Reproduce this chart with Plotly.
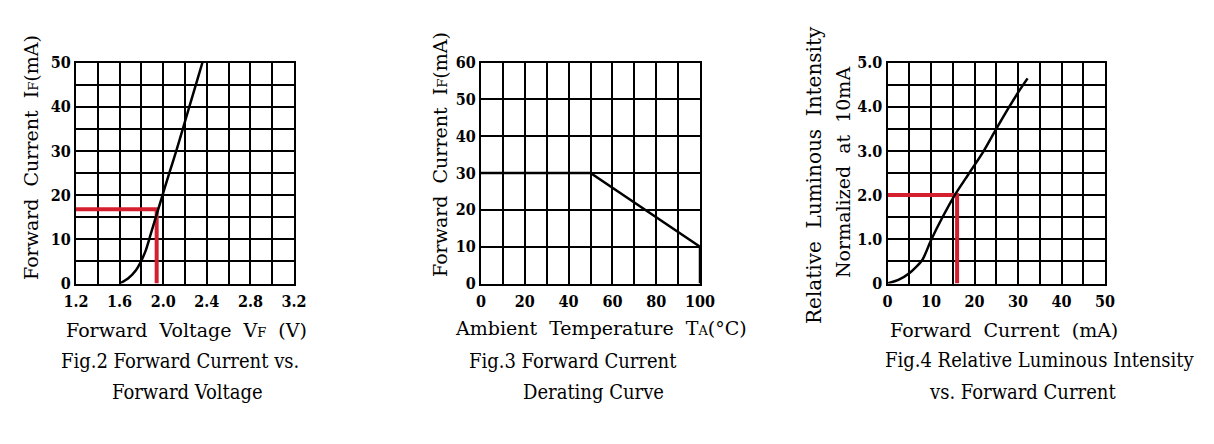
import plotly.graph_objects as go

W, H = 1214, 444
OFF = 8  # page body margin around the plot div

# ── Fig.2 Forward current vs forward voltage ─────────────────────────────────
vf = [1.60, 1.68, 1.75, 1.79, 1.84, 1.88, 1.92, 1.955, 2.00, 2.06, 2.12, 2.18, 2.24, 2.30, 2.36]
if_vf = [0, 1.2, 3.0, 4.7, 7.5, 10.7, 14, 16.8, 20.5, 25.3, 30, 35, 40, 45, 50]
mark_vf = [1.2, 1.94, 1.94]
mark_if = [16.8, 16.8, 0]

# ── Fig.3 Derating curve ─────────────────────────────────────────────────────
ta = [0, 50, 100, 100]
if_ta = [30, 30, 10, 0]

# ── Fig.4 Relative luminous intensity vs forward current ─────────────────────
if_lum = [0, 2.5, 5, 8, 10, 12.7, 15.4, 18.8, 22, 25, 28, 30, 32.2]
lum = [0, 0.08, 0.23, 0.53, 0.98, 1.51, 1.99, 2.5, 2.98, 3.5, 4.0, 4.32, 4.64]
mark_i = [0, 16, 16]
mark_lum = [2.0, 2.0, 0]

x1_ticks = [1.2, 1.6, 2.0, 2.4, 2.8, 3.2]
x1_text = ["1.2", "1.6", "2.0", "2.4", "2.8", "3.2"]
y3_ticks = [0, 1, 2, 3, 4, 5]
y3_text = ["0", "1.0", "2.0", "3.0", "4.0", "5.0"]

RED = "#d4202e"
SERIF = "DejaVu Serif, Liberation Serif, serif"
COND = "DejaVu Serif Condensed, Liberation Serif, serif"


def fx(x):
    return (x - OFF) / W


def fy(y):
    return 1 - (y - OFF) / H


Y_DOM = [fy(283.5), fy(62.5)]
X_DOMS = [[fx(76), fx(294)], [fx(481), fx(700)], [fx(887.5), fx(1105)]]

fig = go.Figure()
fig.add_trace(go.Scatter(x=mark_vf, y=mark_if, mode="lines", xaxis="x", yaxis="y",
                         line=dict(color=RED, width=4)))
fig.add_trace(go.Scatter(x=vf, y=if_vf, mode="lines", xaxis="x", yaxis="y",
                         line=dict(color="black", width=2.5, shape="spline", smoothing=0.6)))
fig.add_trace(go.Scatter(x=ta, y=if_ta, mode="lines", xaxis="x2", yaxis="y2",
                         line=dict(color="black", width=2.5)))
fig.add_trace(go.Scatter(x=mark_i, y=mark_lum, mode="lines", xaxis="x3", yaxis="y3",
                         line=dict(color=RED, width=4)))
fig.add_trace(go.Scatter(x=if_lum, y=lum, mode="lines", xaxis="x3", yaxis="y3",
                         line=dict(color="black", width=2.5, shape="spline", smoothing=0.6)))

tickfont = dict(family=COND, size=16, color="black", weight="bold")


def axis(dom, rng, dtick, minor, anchor, **kw):
    d = dict(domain=dom, range=rng, dtick=dtick, tick0=rng[0], anchor=anchor,
             showline=True, mirror=True, linecolor="black", linewidth=2,
             showgrid=True, gridcolor="black", gridwidth=2, zeroline=False,
             ticks="", tickfont=tickfont, fixedrange=True, automargin=False)
    if minor:
        d["minor"] = dict(dtick=minor, tick0=rng[0], showgrid=True,
                          gridcolor="black", gridwidth=2)
    d.update(kw)
    return d


fig.update_layout(
    template="none",
    width=W, height=H, margin=dict(l=0, r=0, t=0, b=0),
    plot_bgcolor="white", paper_bgcolor="white", showlegend=False,
    xaxis=axis(X_DOMS[0], [1.2, 3.2], 0.4, 0.2, "y", tickmode="array",
               tickvals=x1_ticks, ticktext=x1_text, ticklabelstandoff=2),
    yaxis=axis(Y_DOM, [0, 50], 10, 5, "x"),
    xaxis2=axis(X_DOMS[1], [0, 100], 20, 10, "y2", ticklabelstandoff=2),
    yaxis2=axis(Y_DOM, [0, 60], 10, None, "x2"),
    xaxis3=axis(X_DOMS[2], [0, 50], 10, 5, "y3", ticklabelstandoff=2),
    yaxis3=axis(Y_DOM, [0, 5], 1, 0.5, "x3", tickmode="array",
                tickvals=y3_ticks, ticktext=y3_text),
)

small = "<span style='font-size:13px'>%s</span>"
texts = [
    # (text, x, y, angle, font, size)
    ("Forward  Current  I" + small % "F" + "(mA)", 31, 158, -90, SERIF, 19),
    ("Forward  Voltage  V" + small % "F" + "  (V)", 186, 330, 0, SERIF, 19),
    ("Fig.2 Forward Current vs.", 180, 361, 0, COND, 20),
    ("Forward Voltage", 187, 392, 0, COND, 20),
    ("Forward  Current  I" + small % "F" + "(mA)", 440, 155, -90, SERIF, 19),
    ("Ambient  Temperature  T" + small % "A" + "(°C)", 601, 328, 0, SERIF, 19),
    ("Fig.3 Forward Current", 573, 361, 0, COND, 20),
    ("Derating Curve", 593, 392, 0, COND, 20),
    ("Relative  Luminous  Intensity", 814, 175, -90, SERIF, 20),
    ("Normalized  at  10mA", 843, 173, -90, SERIF, 19),
    ("Forward  Current  (mA)", 1004, 330, 0, SERIF, 19),
    ("Fig.4 Relative Luminous Intensity", 1039, 360, 0, COND, 20),
    ("vs. Forward Current", 1022, 392, 0, COND, 20),
]
for t, x, y, ang, fam, sz in texts:
    fig.add_annotation(text=t, x=fx(x), y=fy(y), xref="paper", yref="paper",
                       showarrow=False, textangle=ang, xanchor="center", yanchor="middle",
                       font=dict(family=fam, size=sz, color="black"))

fig.write_html("out.html")
